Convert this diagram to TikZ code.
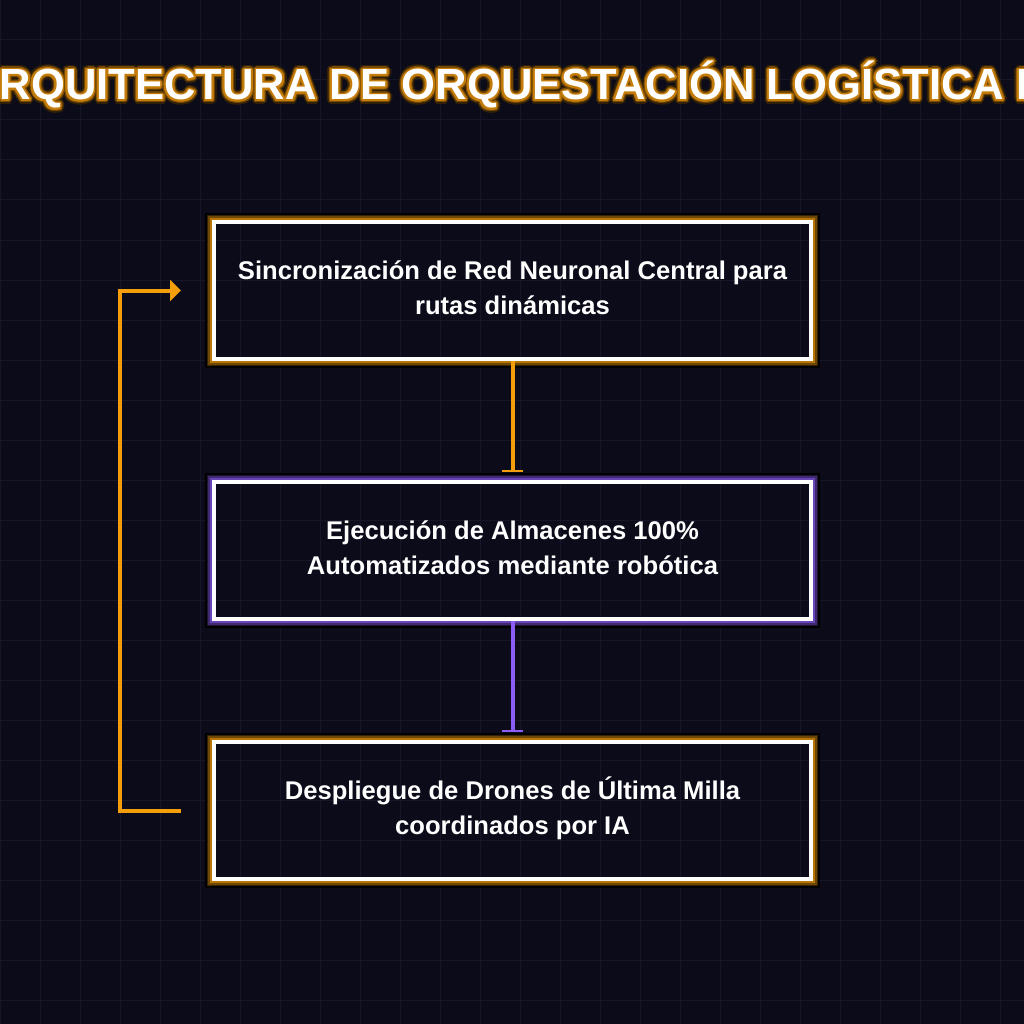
\documentclass[tikz,border=0pt]{standalone}
\usepackage{fontspec}
\setmainfont{Liberation Sans}
\definecolor{nightbg}{RGB}{11, 11, 26}
\definecolor{nightgrid}{RGB}{22, 22, 40}
\definecolor{amber1}{RGB}{245, 158, 11}
\definecolor{violet1}{RGB}{139, 92, 246}
\definecolor{titleglow1}{RGB}{196, 124, 10}
\definecolor{titleglow2}{RGB}{118, 74, 6}
\definecolor{titleglow3}{RGB}{48, 32, 8}
\usetikzlibrary{arrows.meta, positioning, calc}
\tikzset{
  % Faint grid behind everything.
  gridline/.style={draw=nightgrid, line width=1pt},
  % Stage card: white frame, no fill so the grid shows through.
  stage/.style={
    rectangle, draw=white, line width=4pt,
    minimum width=597pt, minimum height=137pt,
    align=center, text=white,
    font=\fontsize{25.6pt}{35pt}\selectfont\bfseries,
    execute at end node={\rule[-6pt]{0pt}{0pt}},
  },
  % Title text (one copy per glow ring).
  title-text/.style={
    anchor=base, inner sep=0pt,
    font=\fontsize{43.6pt}{50pt}\selectfont\bfseries,
  },
  % Connectors.
  flow/.style={line width=4pt, draw=#1},
  bar-tip/.style={-{Bar[width=21pt, line width=2pt]}},
  loop-tip/.style={-{Triangle[length=11pt, width=21pt]}},
}
% Glow rings round a stage card (#1 = node, #2 = hue).
\newcommand{\stageglow}[2]{%
  \foreach \off/\wd/\mix in {1pt/2pt/75, 3pt/2pt/45, 4.5pt/1pt/22, 6pt/2pt/0}
    \draw[draw=#2!\mix!black, line width=\wd]
      ([shift={(-\off,\off)}]#1.north west) rectangle
      ([shift={(\off,-\off)}]#1.south east);
}
\newcommand{\titletext}{ARQUITECTURA DE ORQUESTACIÓN LOGÍSTICA IA}

\begin{document}
\begin{tikzpicture}[x=1pt, y=-1pt]

  \useasboundingbox (0,0) rectangle (1024,1024);
  \clip (0,0) rectangle (1024,1024);
  \fill[nightbg] (0,0) rectangle (1024,1024);

  % Grid every 40px.
  \foreach \g in {0,40,...,1000} {
    \draw[gridline] (\g,0) -- (\g,1024);
    \draw[gridline] (0,\g) -- (1024,\g);
  }

  % Title with orange halo.
  \foreach \ang [count=\k] in {0,22.5,...,337.5} {
    \node[title-text, text=titleglow3, shift={(\ang:4.5pt)}] (tglowc\k) at (514,100) {\titletext};
  }
  \foreach \ang [count=\k] in {0,22.5,...,337.5} {
    \node[title-text, text=titleglow2, shift={(\ang:3pt)}] (tglowb\k) at (514,100) {\titletext};
  }
  \foreach \ang [count=\k] in {0,22.5,...,337.5} {
    \node[title-text, text=titleglow1, shift={(\ang:1.8pt)}] (tglowa\k) at (514,100) {\titletext};
  }
  \node[title-text, text=white] (title) at (514,100) {\titletext};

  % Three stages, top to bottom.
  \node[stage] (sync) at (512.5, 290.5) {%
    Sincronización de Red Neuronal Central para\\
    rutas dinámicas%
  };
  \node[stage] (exec) at (512.5, 550.5) {%
    Ejecución de Almacenes 100\%\\
    Automatizados mediante robótica%
  };
  \node[stage, execute at end node={\rule[-9.5pt]{0pt}{0pt}}] (drone) at (512.5, 810.5) {%
    Despliegue de Drones de Última Milla\\
    coordinados por IA%
  };
  \stageglow{sync}{amber1}
  \stageglow{exec}{violet1}
  \stageglow{drone}{amber1}

  % Downward flow.
  \draw[flow=amber1, bar-tip]  (sync.south) -- ([yshift=8pt]exec.north);
  \draw[flow=violet1, bar-tip] (exec.south) -- ([yshift=8pt]drone.north);

  % Feedback loop back to the top stage.
  \draw[flow=amber1, loop-tip]
    ([xshift=-31pt]drone.west) -- ++(-61,0) |- ([xshift=-31pt]sync.west);

\end{tikzpicture}
\end{document}
